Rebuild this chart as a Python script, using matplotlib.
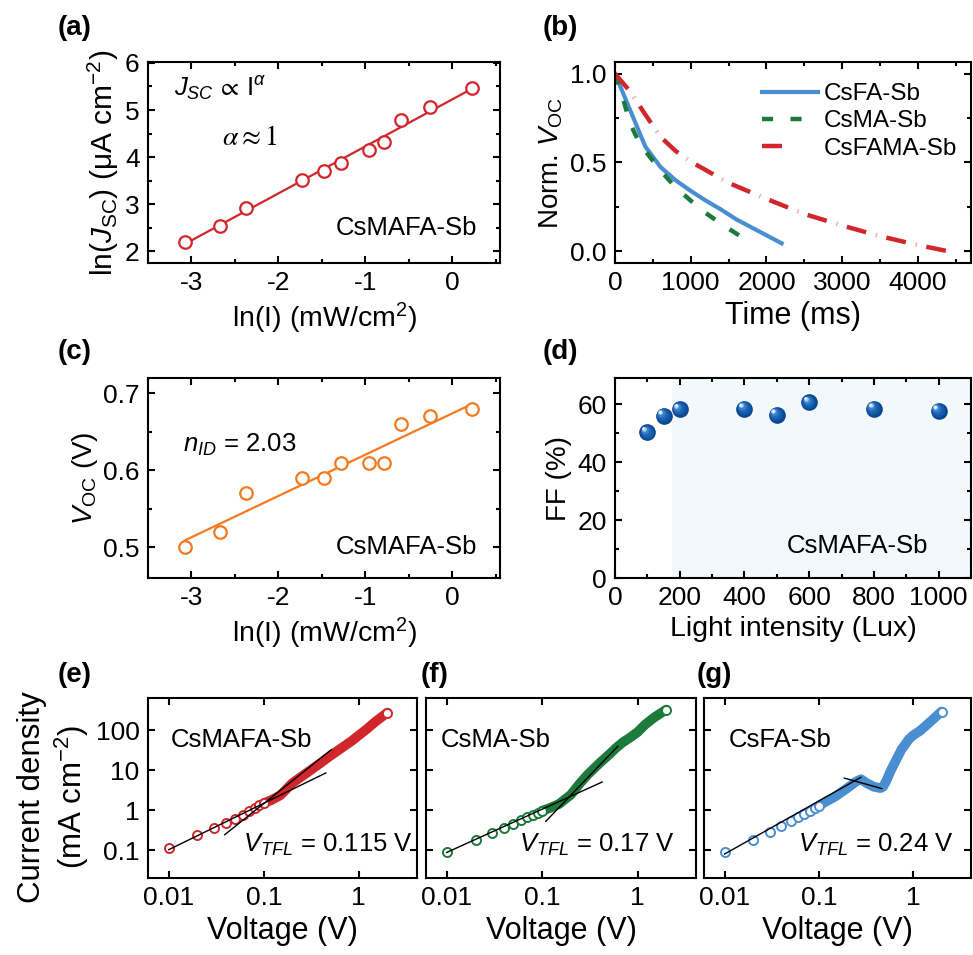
import numpy as np
import matplotlib
matplotlib.use('Agg')
import matplotlib.pyplot as plt
from matplotlib.ticker import MultipleLocator, FixedLocator, NullLocator
from matplotlib.transforms import offset_copy
from matplotlib.legend_handler import HandlerTuple

plt.rcParams['font.family'] = ['Liberation Sans', 'DejaVu Sans']
plt.rcParams['mathtext.fontset'] = 'custom'
plt.rcParams['mathtext.rm'] = 'Liberation Sans'
plt.rcParams['mathtext.it'] = 'Liberation Sans:italic'
plt.rcParams['mathtext.bf'] = 'Liberation Sans:bold'
plt.rcParams['mathtext.fallback'] = 'stix'
plt.rcParams['font.size'] = 19
plt.rcParams['axes.linewidth'] = 1.5
plt.rcParams['lines.scale_dashes'] = False
for a in ('xtick', 'ytick'):
    plt.rcParams[a + '.direction'] = 'in'
    plt.rcParams[a + '.major.size'] = 5
    plt.rcParams[a + '.minor.size'] = 3
    plt.rcParams[a + '.major.width'] = 1.5
    plt.rcParams[a + '.minor.width'] = 1.5
    plt.rcParams[a + '.major.pad'] = 6
    plt.rcParams[a + '.labelsize'] = 19
plt.rcParams['xtick.top'] = True
plt.rcParams['ytick.right'] = True

# (a), (c): light-intensity dependence
ln_I = [-3.08, -2.67, -2.37, -1.73, -1.48, -1.28, -0.96, -0.79, -0.59, -0.25, 0.23]
ln_jsc = [2.20, 2.53, 2.92, 3.51, 3.71, 3.88, 4.15, 4.32, 4.78, 5.06, 5.47]
voc = [0.500, 0.520, 0.570, 0.590, 0.590, 0.610, 0.610, 0.610, 0.660, 0.670, 0.680]

# (b): normalized Voc decay
t_csfa = [0, 400, 600, 800, 1000, 1200, 1400, 1600, 1800, 2000, 2200]
v_csfa = [1.0, 0.59, 0.475, 0.40, 0.34, 0.285, 0.235, 0.18, 0.135, 0.09, 0.045]
t_csma = [0, 100, 200, 300, 400, 600, 800, 1000, 1200, 1400, 1600, 1800]
v_csma = [1.0, 0.87, 0.72, 0.63, 0.565, 0.455, 0.36, 0.285, 0.215, 0.155, 0.10, 0.045]
t_csfama = [0, 200, 400, 600, 800, 1000, 1500, 2000, 2500, 3000, 3500, 4000, 4400]
v_csfama = [1.0, 0.90, 0.77, 0.645, 0.565, 0.505, 0.385, 0.295, 0.21, 0.145, 0.085, 0.035, 0.0]

# (d): fill factor vs light intensity
lux = [100, 150, 200, 400, 500, 600, 800, 1000]
ff = [50.2, 56.0, 58.2, 58.4, 56.4, 60.6, 58.4, 57.7]

# (e)-(g): SCLC J-V, sparse low-bias points + dense high-bias band
v_low = [0.01, 0.02, 0.03, 0.04, 0.05, 0.06, 0.07, 0.08, 0.09, 0.10]
j_e_low = [0.114, 0.246, 0.36, 0.48, 0.61, 0.75, 0.94, 1.14, 1.33, 1.52]
j_f_low = [0.091, 0.178, 0.27, 0.36, 0.46, 0.58, 0.67, 0.75, 0.86, 0.98]
j_g_low = [0.091, 0.185, 0.287, 0.41, 0.53, 0.68, 0.83, 0.98, 1.14, 1.30]

v_e_band = [0.10, 0.12, 0.15, 0.2, 0.25, 0.3, 0.4, 0.5, 0.6, 0.7, 0.85, 1.0, 1.2, 1.5, 2.0]
j_e_band = [1.52, 1.8, 2.4, 4.8, 7.0, 9.5, 15.5, 23, 31, 40, 55, 75, 105, 165, 276]
v_f_band = [0.10, 0.12, 0.15, 0.2, 0.25, 0.3, 0.4, 0.5, 0.6, 0.7, 0.85, 1.0, 1.2, 1.5, 2.0]
j_f_band = [0.98, 1.14, 1.44, 2.46, 4.8, 7.8, 15.2, 24.5, 37, 50, 68, 90, 139, 211, 329]
v_g_band = [0.10, 0.12, 0.15, 0.2, 0.25, 0.28, 0.32, 0.38, 0.45, 0.48, 0.52, 0.58,
            0.65, 0.75, 0.9, 1.0, 1.2, 1.5, 2.0]
j_g_band = [1.30, 1.68, 2.24, 3.6, 5.3, 6.0, 4.8, 3.9, 3.6, 3.9, 5.5, 10, 17, 33, 60,
            75, 100, 160, 295]

# tangent lines (ohmic / trap-filled)
e_fit_lo = ([0.01, 0.45], [0.104, 8.6])
e_fit_hi = ([0.0388, 0.515], [0.246, 32.9])
f_fit_lo = ([0.01, 0.425], [0.089, 5.1])
f_fit_hi = ([0.109, 0.62], [0.53, 39.8])
g_fit_lo = ([0.01, 0.279], [0.081, 6.7])
g_fit_hi = ([0.186, 0.465], [6.4, 3.5])

RED = '#d0262c'
ORANGE = '#f37a21'
BLUE = '#4a8ed2'
GREEN = '#1c7a3a'

W, H = 973, 955
fig = plt.figure(figsize=(W / 100, H / 100), dpi=100)


def px_axes(left, top, right, bottom):
    return fig.add_axes([left / W, 1 - bottom / H, (right - left) / W, (bottom - top) / H])


def panel_label(x, y, s):
    fig.text(x / W, 1 - y / H, s, fontsize=20, fontweight='bold', va='center', ha='left')


# ---- (a) ----
ax = px_axes(148, 62, 500, 263)
k = np.polyfit(ln_I, ln_jsc, 1)
xf = np.array([min(ln_I), max(ln_I)])
ax.plot(xf, np.polyval(k, xf), color=RED, lw=1.6, zorder=2)
ax.plot(ln_I, ln_jsc, 'o', ms=9, mfc='white', mec=RED, mew=1.6, zorder=3)
ax.set_xlim(-3.5, 0.55)
ax.set_ylim(1.75, 6.02)
ax.xaxis.set_major_locator(MultipleLocator(1))
ax.xaxis.set_minor_locator(MultipleLocator(0.5))
ax.yaxis.set_major_locator(MultipleLocator(1))
ax.yaxis.set_minor_locator(MultipleLocator(0.5))
ax.set_xlabel('ln(I) (mW/cm$^2$)', fontsize=20.5)
ax.set_ylabel('ln($J_{\\mathrm{SC}}$) (\u03bcA cm$^{-2}$)', fontsize=21.5, labelpad=3)
ax.text(-3.2, 5.45, r'$J_{SC}\,\propto\,\mathrm{I}^{\alpha}$', fontsize=18.5, va='center')
ax.text(-2.65, 4.4, r'$\alpha\approx1$', fontsize=20, va='center', math_fontfamily='stix')
ax.text(0.935, 0.174, 'CsMAFA-Sb', transform=ax.transAxes, ha='right', va='center', fontsize=18.5)
ax.set_xticklabels([f'{v:g}' for v in ax.get_xticks()])
panel_label(58, 28, '(a)')

# ---- (b) ----
ax = px_axes(615, 62, 971, 263)
hb, = ax.plot(t_csfa, v_csfa, color=BLUE, lw=3)
hg, = ax.plot(t_csma, v_csma, color=GREEN, lw=3.2, linestyle=(0, (8, 12.5)), dash_capstyle='butt')
hr, = ax.plot(t_csfama, v_csfama, color=RED, lw=3.2, linestyle=(0, (14.4, 15.1)), dash_capstyle='butt')
hr2, = ax.plot(t_csfama, v_csfama, color='#eeaaaa', lw=3.2, linestyle=(7.9, (1.0, 28.5)), dash_capstyle='butt')
ax.set_xlim(0, 4700)
ax.set_ylim(-0.066, 1.066)
ax.xaxis.set_major_locator(MultipleLocator(1000))
ax.xaxis.set_minor_locator(MultipleLocator(500))
ax.yaxis.set_major_locator(MultipleLocator(0.5))
ax.yaxis.set_minor_locator(MultipleLocator(0.25))
ax.yaxis.set_major_formatter('{x:.1f}')
ax.set_xlabel('Time (ms)', fontsize=22)
ax.set_ylabel('Norm. $V_{\\mathrm{OC}}$', fontsize=20)
ax.legend([hb, hg, (hr, hr2)], ['CsFA-Sb', 'CsMA-Sb', 'CsFAMA-Sb'],
          handler_map={tuple: HandlerTuple(ndivide=None)},
          loc='upper left', bbox_to_anchor=(0.413, 0.895), frameon=False,
          fontsize=17.5, handlelength=2.3, handletextpad=0.25, labelspacing=0.22,
          borderpad=0, borderaxespad=0)
panel_label(543, 28, '(b)')

# ---- (c) ----
ax = px_axes(148, 378, 500, 578)
k = np.polyfit(ln_I, voc, 1)
ax.plot(xf, np.polyval(k, xf), color=ORANGE, lw=1.6, zorder=2)
ax.plot(ln_I, voc, 'o', ms=9, mfc='white', mec=ORANGE, mew=1.6, zorder=3)
ax.set_xlim(-3.5, 0.55)
ax.set_ylim(0.46, 0.72)
ax.xaxis.set_major_locator(MultipleLocator(1))
ax.xaxis.set_minor_locator(MultipleLocator(0.5))
ax.yaxis.set_major_locator(MultipleLocator(0.1))
ax.yaxis.set_minor_locator(MultipleLocator(0.05))
ax.yaxis.set_major_formatter('{x:.1f}')
ax.set_xticklabels([f'{v:g}' for v in ax.get_xticks()])
ax.set_xlabel('ln(I) (mW/cm$^2$)', fontsize=20.5)
ax.set_ylabel('$V_{\\mathrm{OC}}$ (V)', fontsize=20, labelpad=2)
ax.text(0.10, 0.665, '$n_{ID}$ = 2.03', transform=ax.transAxes, va='center', fontsize=18.5)
ax.text(0.935, 0.155, 'CsMAFA-Sb', transform=ax.transAxes, ha='right', va='center', fontsize=18.5)
panel_label(58, 352, '(c)')

# ---- (d) ----
ax = px_axes(615, 378, 971, 578)
ax.axvspan(175, 1100, color='#f3f8fc', zorder=0, lw=0)
ms = 12
layers = [(1.0, '#0b4690'), (0.82, '#1257a5'), (0.64, '#1e66b6'),
          (0.46, '#3a80cc'), (0.28, '#a8c9ec'), (0.14, '#ffffff')]
for frac, col in layers:
    d = (1 - frac) * ms * 0.28
    tr = offset_copy(ax.transData, fig=fig, x=-d, y=d, units='points')
    ax.plot(lux, ff, 'o', ms=ms * frac, color=col, mew=0, transform=tr, zorder=3)
ax.set_xlim(0, 1100)
ax.set_ylim(0, 69)
ax.xaxis.set_major_locator(MultipleLocator(200))
ax.xaxis.set_minor_locator(MultipleLocator(100))
ax.yaxis.set_major_locator(MultipleLocator(20))
ax.yaxis.set_minor_locator(MultipleLocator(10))
ax.set_xlabel('Light intensity (Lux)', fontsize=20.5)
ax.set_ylabel('FF (%)', fontsize=20)
ax.text(0.88, 0.16, 'CsMAFA-Sb', transform=ax.transAxes, ha='right', va='center', fontsize=18.5)
panel_label(543, 352, '(d)')


# ---- (e)-(g) ----
def sclc(ax, j_low, v_band, j_band, fit_lo, fit_hi, color, name, name_x, vtfl, vtfl_x):
    ax.set_xscale('log')
    ax.set_yscale('log')
    ax.plot(v_band, j_band, '-', color=color, lw=7, solid_capstyle='round', zorder=2)
    ax.plot(v_low, j_low, 'o', ms=6.5, mfc='white', mec=color, mew=1.4, zorder=3)
    ax.plot(v_band[-1], j_band[-1], 'o', ms=6.5, mfc='white', mec=color, mew=1.4, zorder=3)
    ax.plot(*fit_lo, color='black', lw=1, zorder=4)
    ax.plot(*fit_hi, color='black', lw=1, zorder=4)
    ax.set_xlim(0.00605, 4.1)
    ax.set_ylim(0.0204, 642)
    ax.xaxis.set_major_locator(FixedLocator([0.01, 0.1, 1]))
    ax.xaxis.set_minor_locator(NullLocator())
    ax.yaxis.set_major_locator(FixedLocator([0.1, 1, 10, 100]))
    ax.yaxis.set_minor_locator(NullLocator())
    ax.set_xticklabels(['0.01', '0.1', '1'])
    ax.set_xlabel('Voltage (V)', fontsize=22)
    ax.text(name_x, 0.767, name, transform=ax.transAxes, va='center', fontsize=18.5)
    ax.text(vtfl_x, 0.183, '$V_{TFL}$ = ' + vtfl, transform=ax.transAxes,
            ha='right', va='center', fontsize=18.5)


ax_e = px_axes(148, 698, 417, 878)
sclc(ax_e, j_e_low, v_e_band, j_e_band, e_fit_lo, e_fit_hi, RED, 'CsMAFA-Sb', 0.085, '0.115 V', 0.985)
ax_e.set_yticklabels(['0.1', '1', '10', '100'])
# two-line y label, each line placed on its own
ax_e.text(-0.431, 0.45, 'Current density', transform=ax_e.transAxes, rotation=90,
          ha='center', va='center', fontsize=22.5)
ax_e.text(-0.283, 0.45, '(mA cm$^{-2}$)', transform=ax_e.transAxes, rotation=90,
          ha='center', va='center', fontsize=22.5)
panel_label(58, 675, '(e)')

ax_f = px_axes(426, 698, 696, 878)
sclc(ax_f, j_f_low, v_f_band, j_f_band, f_fit_lo, f_fit_hi, GREEN, 'CsMA-Sb', 0.056, '0.17 V', 0.92)
ax_f.set_yticklabels([])
panel_label(421, 675, '(f)')

ax_g = px_axes(704, 698, 971, 878)
sclc(ax_g, j_g_low, v_g_band, j_g_band, g_fit_lo, g_fit_hi, BLUE, 'CsFA-Sb', 0.094, '0.24 V', 0.936)
ax_g.set_yticklabels([])
panel_label(697, 675, '(g)')

fig.savefig('out.png', dpi=100)
